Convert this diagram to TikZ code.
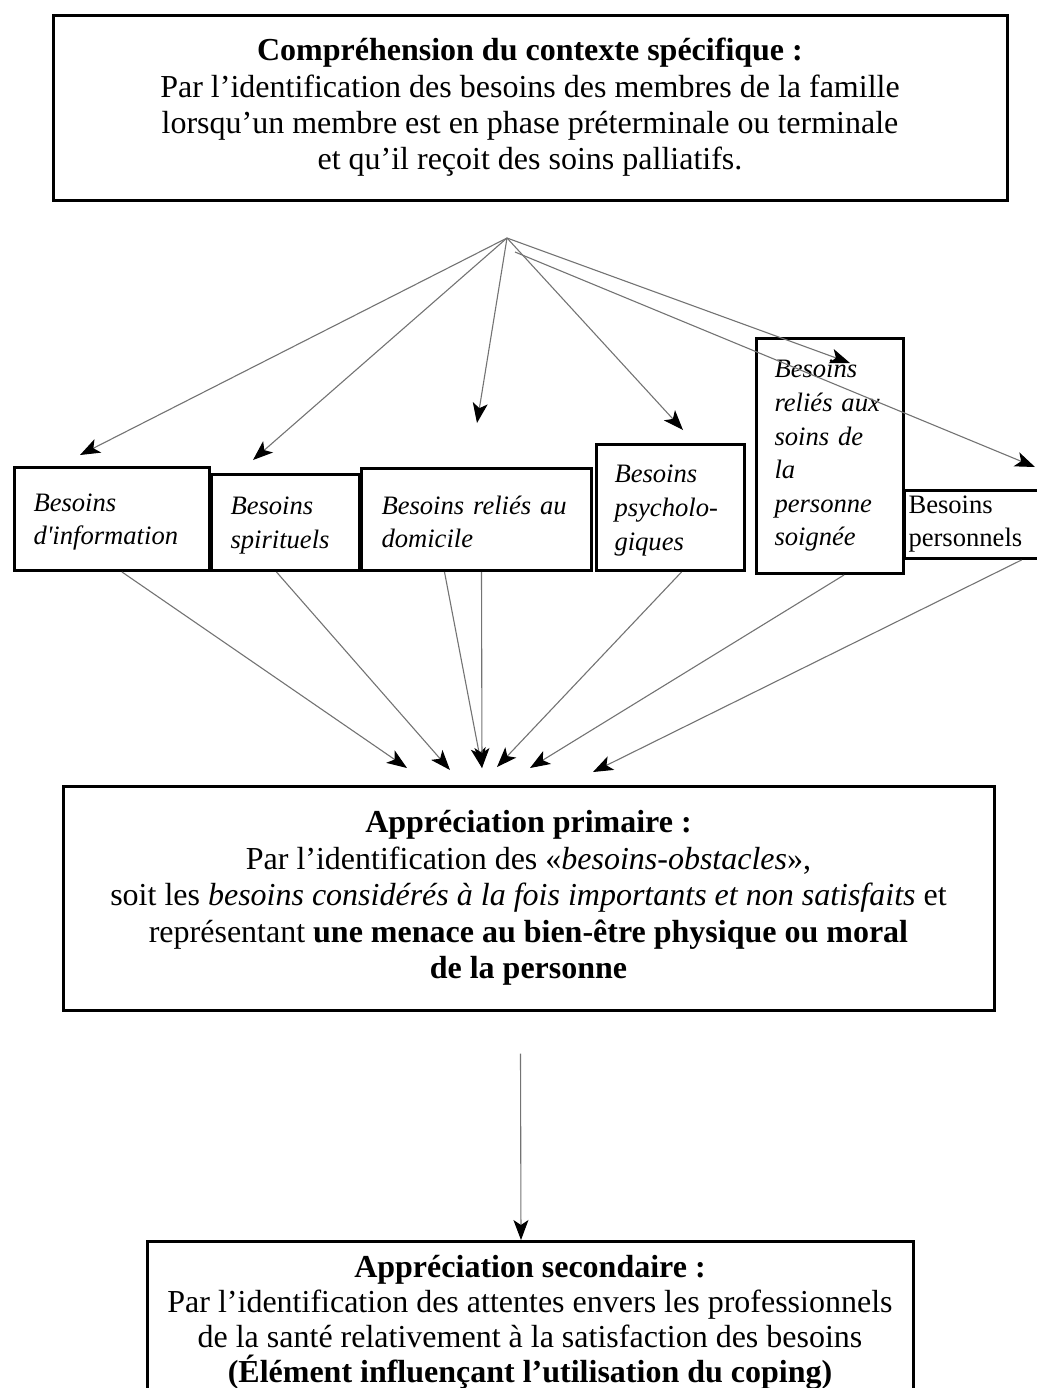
\documentclass[tikz,border=0pt]{standalone}
\usepackage{fontspec}
\setmainfont{Liberation Serif}
\usetikzlibrary{arrows.meta}

\tikzset{
  bigbox/.style={draw, line width=1.5pt, align=center, inner sep=0pt,
    font=\fontsize{16}{18.2}\selectfont},
  needbox/.style={draw, line width=1.5pt, align=left, anchor=north west,
    inner ysep=0pt, font=\fontsize{13.3}{16.8}\selectfont\itshape},
  link/.style={draw=black!55, line width=0.55pt,
    -{Stealth[length=10pt, width=7.5pt, inset=2.5pt, black]}},
}

\begin{document}
\begin{tikzpicture}[x=0.5pt, y=-0.5pt]
    \useasboundingbox (0,0) rectangle (1037,1388);
    % Context
    \node [bigbox, minimum width=477pt, minimum height=92.5pt] (context) at (530,107.5)
        {\textbf{Compréhension du contexte spécifique :}\\
         Par l’identification des besoins des membres de la famille\\
         lorsqu’un membre est en phase préterminale ou terminale\\
         et qu’il reçoit des soins palliatifs.};
    \coordinate (hub) at (507,238);
    \coordinate (hub2) at (515,252);

    % Needs
    \node [needbox, minimum width=97.5pt, minimum height=51.5pt, inner xsep=9.5pt, text width=78.5pt]
        (info) at (13,466) {\strut Besoins\\ d\textquotesingle information};
    \node [needbox, minimum width=74pt, minimum height=48pt, inner xsep=9.5pt, text width=55pt]
        (spirit) at (210,473) {\strut Besoins\\ spirituels};
    \node [needbox, minimum width=115pt, minimum height=51pt, inner xsep=10pt, text width=95pt]
        (home) at (360,467) {\strut Besoins reliés au\\ domicile};
    \node [needbox, minimum width=74pt, minimum height=63pt, inner xsep=9pt, text width=56pt]
        (psy) at (595,443) {\strut Besoins\\ psycholo-\\ giques};
    \node [needbox, minimum width=73.5pt, minimum height=117.5pt, inner xsep=9pt, text width=55.5pt]
        (care) at (755,337) {Besoins\\ reliés aux\\ soins de\\ la\\ personne\\ soignée};
    \node [needbox, minimum width=67pt, minimum height=34pt, inner xsep=2pt, text width=63pt,
        font=\fontsize{13.3}{16.5}\selectfont] (own) at (903,489) {Besoins\\ personnels};

    % Arrows from context
    \coordinate (i1) at (80,455);
    \coordinate (i2) at (253,460);
    \coordinate (i3) at (477,423);
    \coordinate (i4) at (683,430);
    \coordinate (i5) at (850,363);
    \coordinate (i6) at (1035,467);
    \foreach \t in {i1, i2, i3, i4, i5}
        \draw [link] (hub) -- (\t);
    \draw [link] (hub2) -- (i6);

    % Primary appraisal
    \node [bigbox, minimum width=465.5pt, minimum height=112pt] (primary) at (528.5,898)
        {\textbf{Appréciation primaire :}\\
         Par l’identification des «\textit{besoins-obstacles}»,\\
         soit les \textit{besoins considérés à la fois importants et non satisfaits} et\\
         représentant \textbf{une menace au bien-être physique ou moral}\\
         \textbf{de la personne}};

    % Arrows to primary
    \coordinate (o1) at (407,768);
    \coordinate (o2) at (450,770);
    \coordinate (o3) at (482,768);
    \coordinate (o4) at (497,767);
    \coordinate (o5) at (530,768);
    \coordinate (o6) at (593,772);
    \draw [link] ([xshift=5pt]info.south) -- (o1);
    \draw [link] ([xshift=-4.5pt]spirit.south) -- (o2);
    \draw [link] ([xshift=-16pt]home.south) -- (o3);
    \draw [link] ([xshift=2.5pt]home.south) -- (o3);
    \draw [link] ([xshift=5.5pt]psy.south) -- (o4);
    \draw [link] ([xshift=7pt]care.south) -- (o5);
    \draw [link] ([xshift=25pt]own.south) -- (o6);

    % Secondary appraisal
    \node [bigbox, anchor=north, minimum width=383pt, inner ysep=7pt,
        font=\fontsize{16}{17.5}\selectfont] (secondary) at (530,1240)
        {\textbf{Appréciation secondaire :}\\
         Par l’identification des attentes envers les professionnels\\
         de la santé relativement à la satisfaction des besoins\\
         \textbf{(Élément influençant l’utilisation du coping)}\\ \mbox{}};
    \draw [link] ([xshift=-4pt, yshift=-21pt]primary.south) -- (secondary.north -| 521,0);

\end{tikzpicture}
\end{document}
